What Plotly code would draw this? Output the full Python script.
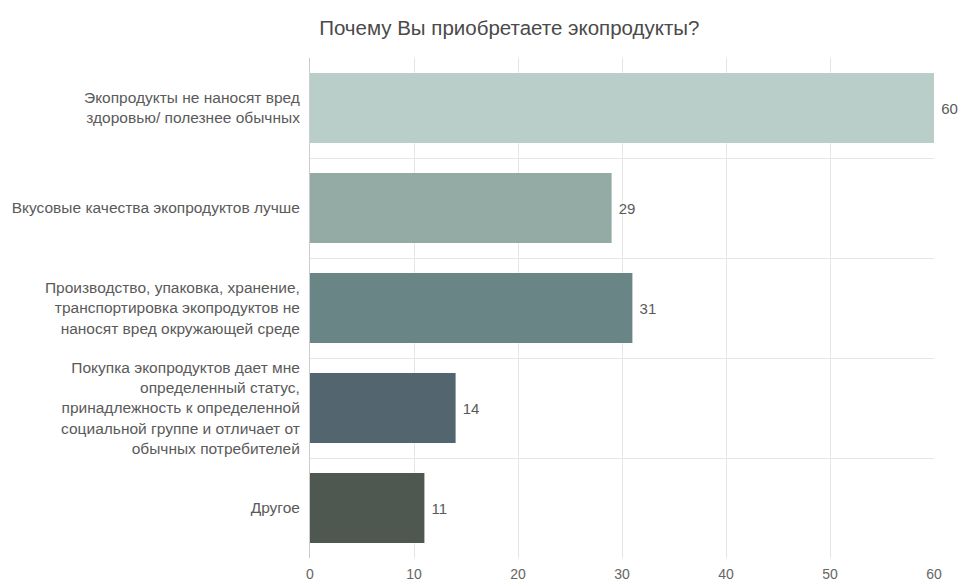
import plotly.graph_objects as go

categories = [
    "Экопродукты не наносят вред<br>здоровью/ полезнее обычных",
    "Вкусовые качества экопродуктов лучше",
    "Производство, упаковка, хранение,<br>транспортировка экопродуктов не<br>наносят вред окружающей среде",
    "Покупка экопродуктов дает мне<br>определенный статус,<br>принадлежность к определенной<br>социальной группе и отличает от<br>обычных потребителей",
    "Другое",
]
values = [60, 29, 31, 14, 11]
colors = ["#b9cec9", "#93aaa5", "#6a8585", "#53656e", "#4f5850"]
x_ticks = [0, 10, 20, 30, 40, 50, 60]

fig = go.Figure(
    go.Bar(
        x=values,
        y=categories,
        orientation="h",
        marker=dict(color=colors, line=dict(width=0)),
        text=[f" {v}" for v in values],
        textposition="outside",
        textfont=dict(size=15, color="#5a5a5a"),
        cliponaxis=False,
        width=0.7,
    )
)

fig.update_layout(
    width=961,
    height=586,
    margin=dict(l=310, r=27, t=58, b=28, autoexpand=False),
    paper_bgcolor="white",
    plot_bgcolor="white",
    font=dict(family="Liberation Sans, Arial, sans-serif", color="#5a5a5a"),
    title=dict(
        text="Почему Вы приобретаете экопродукты?",
        x=0.53,
        xref="container",
        xanchor="center",
        y=0.952,
        yref="container",
        yanchor="middle",
        font=dict(size=20.5, color="#4a4a4a"),
    ),
    showlegend=False,
)

fig.update_xaxes(
    range=[0, 60],
    tickvals=x_ticks,
    showgrid=True,
    gridcolor="#e6e6e6",
    zeroline=False,
    showline=False,
    tickfont=dict(size=14, color="#666666"),
    ticks="",
    ticklabelstandoff=6,
    automargin=False,
)
fig.update_yaxes(
    autorange="reversed",
    tickson="boundaries",
    showgrid=True,
    gridcolor="#e6e6e6",
    ticks="",
    ticklabelstandoff=6,
    tickfont=dict(size=15.5, color="#5a5a5a"),
    showline=True,
    linecolor="#cccccc",
    automargin=False,
)

fig.write_html("out.html")
